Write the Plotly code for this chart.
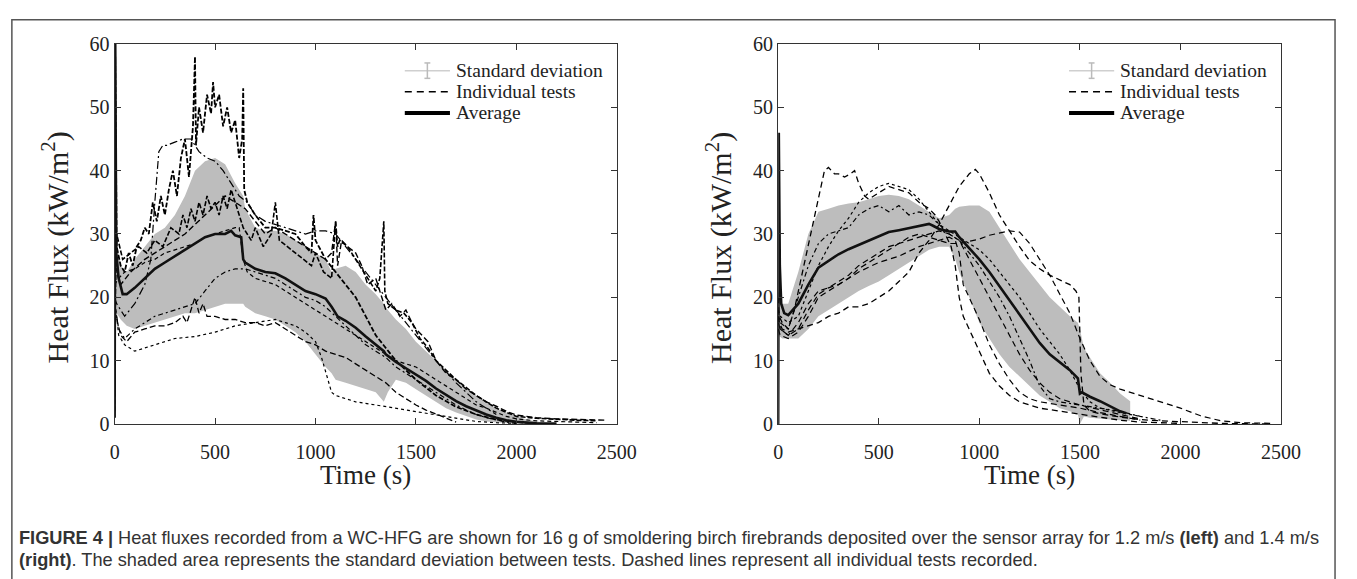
import plotly.graph_objects as go

# ---------------- LEFT PANEL (1.2 m/s) ----------------
L_avg_t = [0, 3, 8, 20, 40, 60, 100, 150, 200, 250, 300, 350, 400, 450, 500, 550, 580, 600, 630, 640, 650, 700, 750, 800, 850, 900, 950, 1000, 1050, 1080, 1100, 1110, 1150, 1200, 1250, 1300, 1340, 1350, 1400, 1450, 1500, 1550, 1600, 1650, 1700, 1750, 1800, 1850, 1900, 1950, 2000, 2050, 2100, 2200]
L_avg_y = [1, 60, 27, 23, 20.5, 20.5, 21.5, 23, 24.5, 25.5, 26.5, 27.5, 28.5, 29.5, 30, 30, 30.5, 29.8, 29.5, 26, 25.5, 24.5, 24, 23.8, 23, 22, 21, 20.5, 19.8, 18.5, 17.5, 17, 16.3, 15.2, 13.8, 12.5, 11.5, 11, 9.8, 8.8, 7.8, 6.8, 5.6, 4.6, 3.6, 2.8, 2.1, 1.5, 1.0, 0.6, 0.35, 0.2, 0.1, 0.05]

L_band_t = [0, 30, 60, 100, 150, 200, 250, 300, 350, 400, 450, 500, 550, 600, 640, 650, 700, 750, 800, 850, 900, 950, 1000, 1050, 1080, 1100, 1150, 1200, 1250, 1300, 1340, 1360, 1400, 1450, 1500, 1550, 1600, 1650, 1700, 1750, 1800, 1850, 1900, 1950, 2000, 2050, 2100, 2150]
L_band_hi = [31, 25, 24, 26, 28, 30, 31, 33, 36, 40, 41.5, 42, 41, 38, 36, 34, 31, 30.5, 30.5, 30, 29, 28, 27, 26, 24, 24.5, 25, 24, 22, 20.5, 19, 18, 16.5, 15, 13, 11.5, 10, 8.5, 7, 5.5, 4.5, 3.5, 2.5, 1.8, 1.2, 0.7, 0.4, 0.2]
L_band_lo = [18, 16.5, 15.5, 15, 15.5, 16, 16.5, 17, 17.5, 17.5, 18, 18.5, 19, 19, 19, 18.5, 17.5, 17, 16.5, 15.5, 14.5, 13, 11, 9, 8, 7, 6.5, 6, 5.5, 5, 3.5, 5, 7, 6.5, 5.5, 4.5, 3.5, 2.5, 1.8, 1.2, 0.7, 0.4, 0.2, 0.1, 0.05, 0.02, 0.01, 0]

L_t1 = [0, 3, 10, 30, 50, 70, 90, 110, 130, 150, 170, 190, 210, 230, 250, 270, 290, 310, 330, 350, 370, 390, 400, 405, 420, 440, 460, 480, 490, 500, 520, 540, 560, 580, 600, 620, 635, 640, 645, 660, 700, 750, 800, 850, 900, 950, 980, 990, 1000, 1050, 1100, 1150, 1200, 1250, 1300, 1350, 1400, 1450, 1500, 1600, 1700, 1800, 1900, 2000, 2100]
L_y1 = [2, 58, 28, 25, 24, 27, 25, 28, 29, 31, 30, 35, 32, 36, 33, 37, 40, 36, 42, 45, 39, 47, 58, 44, 50, 46, 52, 49, 54, 50, 52, 47, 50, 46, 48, 42, 45, 53, 37, 35, 33, 31, 31, 30.5, 30, 28, 27, 33, 29, 26, 24, 22, 20, 17, 14, 12, 10, 8.5, 7, 4.5, 2.7, 1.5, 0.7, 0.3, 0.1]

L_t2 = [0, 10, 50, 100, 150, 180, 200, 220, 240, 260, 300, 340, 380, 420, 460, 500, 540, 580, 620, 660, 700, 750, 800, 850, 900, 950, 1000, 1050, 1100, 1150, 1200, 1300, 1400, 1500, 1600, 1700, 1800, 1900]
L_y2 = [20, 19, 17, 19, 22, 26, 35, 43, 44, 44, 44.5, 45, 45, 43, 42, 41.5, 40, 38, 36, 35, 33, 32, 31.5, 31, 30.5, 30, 30.5, 30.5, 30, 28, 26, 22, 18, 14, 10, 6.5, 3.5, 1.5]

L_t3 = [0, 10, 40, 80, 120, 160, 200, 240, 280, 320, 340, 360, 380, 400, 420, 440, 460, 480, 500, 520, 540, 560, 580, 600, 620, 640, 660, 680, 700, 740, 780, 800, 820, 860, 900, 940, 980, 1000, 1040, 1080, 1100, 1110, 1120, 1160, 1200, 1240, 1280, 1300, 1320, 1340, 1345, 1360, 1400, 1440, 1480, 1520, 1560, 1600, 1700, 1800, 1900, 2000, 2100, 2200, 2300, 2400]
L_y3 = [15, 30, 26, 27, 28, 27, 29, 28, 31, 30, 33, 31, 34, 32, 35, 33, 36, 34, 35, 33, 36, 34, 37, 35, 33, 31, 30, 29, 31, 28, 30, 35, 29, 28, 27, 26, 25, 27, 24, 23, 32, 28, 29, 28, 26, 24, 22, 21, 23, 32, 21, 19, 18, 17.5, 16, 13.5, 12, 10, 7, 4.5, 2.5, 1.2, 0.9, 0.7, 0.6, 0.5]

L_t4 = [0, 20, 50, 100, 150, 200, 300, 400, 500, 600, 700, 800, 850, 900, 950, 1000, 1030, 1060, 1080, 1100, 1200, 1300, 1400, 1500, 1600, 1700, 1800, 1900, 2000]
L_y4 = [20, 14, 12.5, 11.5, 12, 12.5, 13.5, 13.8, 14.5, 15.5, 16, 16.5, 16, 15.5, 14.5, 13, 10.5, 7, 5, 4.5, 3.5, 3, 2.5, 2, 1.5, 0.9, 0.4, 0.2, 0.1]

L_t5 = [0, 30, 60, 100, 150, 200, 250, 300, 340, 360, 380, 400, 420, 440, 460, 500, 550, 600, 650, 700, 750, 800, 850, 900, 950, 1000, 1050, 1100, 1150, 1200, 1250, 1300, 1350, 1400, 1450, 1500, 1550, 1600, 1650, 1700]
L_y5 = [18, 14, 13, 14.5, 15, 15.5, 15.5, 16, 17, 16, 18, 20, 17.5, 19, 17, 17, 16.5, 16.5, 16, 16, 15.5, 16, 15, 14, 13, 12.5, 11.5, 11, 10.5, 9.5, 8.5, 7.5, 6.5, 5, 4, 3, 2.2, 1.6, 1, 0.3]

L_t6 = [0, 20, 50, 100, 150, 200, 250, 300, 350, 400, 450, 500, 550, 600, 650, 700, 750, 800, 850, 900, 950, 1000, 1050, 1100, 1150, 1200, 1250, 1300, 1350, 1400, 1450, 1500, 1550, 1600, 1650, 1700, 1750, 1800, 1850, 1900, 1950, 2000]
L_y6 = [19, 15, 13.5, 15, 16, 17, 17.5, 18, 18.5, 19, 21, 23, 24, 24.5, 24.5, 24, 23.5, 23, 22, 21, 20, 19.5, 18.5, 17, 15.5, 14, 12.5, 11.5, 10.5, 9, 8, 7, 6, 5, 4, 3, 2.2, 1.5, 1, 0.6, 0.3, 0.1]

L_t7 = [0, 20, 50, 100, 150, 200, 250, 300, 350, 400, 450, 500, 550, 600, 620, 640, 660, 700, 750, 800, 850, 900, 950, 1000, 1050, 1100, 1150, 1200, 1250, 1300, 1350, 1400, 1450, 1500, 1550, 1600, 1650, 1700, 1750, 1800, 1850, 1900, 1950, 2000, 2100, 2200, 2300, 2400]
L_y7 = [22, 23, 24, 24.5, 25.5, 26, 27, 27.5, 28, 28.5, 29.5, 30, 30.5, 31, 31, 26, 24, 23, 22.5, 22, 21, 20, 19, 18, 17, 16, 15, 14, 13, 12, 11, 10, 9.5, 9, 8, 7, 6, 5, 4, 3, 2.5, 1.8, 1.2, 0.8, 0.5, 0.4, 0.3, 0.2]

L_t8 = [0, 30, 80, 150, 250, 350, 450, 550, 650, 700, 750, 800, 850, 900, 950, 1000, 1050, 1080, 1100, 1110, 1130, 1160, 1200, 1230, 1260, 1300, 1330, 1350, 1380, 1420, 1450, 1480, 1500, 1530, 1560, 1600, 1650, 1700, 1750, 1800, 1850, 1900, 1950, 2000, 2100, 2200, 2300, 2400, 2450]
L_y8 = [25, 22, 24, 26, 28, 30, 33, 36, 34, 32, 30, 31, 30, 29, 28, 27, 26, 27, 32, 25, 29, 28, 27, 25, 22, 23, 20, 18, 19, 17, 18, 16, 15, 14, 13, 10, 8, 7, 5.5, 4.5, 3.5, 2.8, 2.0, 1.4, 1.0, 0.8, 0.7, 0.6, 0.6]

# ---------------- RIGHT PANEL (1.4 m/s) ----------------
R_avg_t = [0, 3, 8, 15, 30, 50, 100, 150, 200, 250, 300, 350, 400, 450, 500, 550, 600, 650, 700, 750, 770, 800, 850, 880, 900, 950, 1000, 1050, 1100, 1150, 1200, 1250, 1300, 1350, 1400, 1450, 1490, 1500, 1510, 1550, 1600, 1650, 1700, 1730]
R_avg_y = [0, 46, 25, 19, 17.5, 17.2, 19, 22, 24.7, 25.8, 26.8, 27.6, 28.3, 29, 29.7, 30.3, 30.6, 30.9, 31.2, 31.6, 31.3, 30.8, 30.4, 30.4, 29.5, 27.8, 26, 24, 21.8, 19.5, 17.2, 15, 12.8, 11, 9.8, 8.5, 7.2, 4.8, 5, 4.3, 3.6, 2.8, 2.0, 1.7]

R_band_t = [0, 20, 50, 100, 150, 200, 250, 300, 350, 400, 450, 500, 550, 600, 650, 700, 750, 800, 850, 880, 900, 950, 1000, 1050, 1100, 1150, 1200, 1250, 1300, 1350, 1400, 1450, 1490, 1500, 1520, 1550, 1600, 1650, 1700, 1750]
R_band_hi = [21, 19, 19, 24, 30, 33.5, 34, 34.5, 34.8, 35, 35.5, 36, 36.2, 36, 35.5, 34.5, 33.5, 32.5, 33, 34, 34.3, 34.5, 34.5, 33.5, 31, 28.5, 26, 24, 22, 20, 18.5, 17, 16, 15, 12, 10.5, 8, 6.5, 4.8, 3.6]
R_band_lo = [14, 13.5, 13.5, 13.5, 15, 17, 18, 19, 20, 21, 21.8, 22.5, 23.5, 24.5, 25.5, 26.5, 27.5, 28, 28, 26, 24, 20, 16, 13.5, 11, 9, 7.5, 6, 4.5, 3.5, 2.5, 2, 1.5, 0, 1.2, 1.0, 0.8, 0.7, 0.6, 0.5]

R_t1 = [0, 5, 20, 50, 80, 100, 150, 200, 230, 250, 280, 300, 330, 360, 380, 400, 430, 450, 500, 550, 600, 650, 700, 750, 780, 800, 830, 860, 880, 900, 920, 950, 1000, 1050, 1100, 1150, 1200, 1300, 1400, 1500, 1600, 1700, 1800, 1900, 2000]
R_y1 = [20, 17, 16, 15, 18, 21, 28, 36, 40, 40.5, 39.5, 39.5, 39, 39.5, 40, 38, 36, 35.5, 36.5, 37.5, 37, 36.5, 35, 34, 33, 32, 30, 28, 25, 20, 17, 15, 11.5, 8, 6, 4.5, 3.5, 2.5, 2, 1.5, 1, 0.6, 0.3, 0.2, 0.1]

R_t2 = [0, 5, 20, 50, 100, 150, 200, 250, 300, 350, 400, 450, 500, 550, 600, 650, 700, 750, 800, 850, 900, 950, 980, 1000, 1050, 1100, 1150, 1200, 1250, 1300, 1350, 1400, 1450, 1480, 1495, 1505, 1520, 1550, 1600, 1700, 1800, 1900, 2000, 2100, 2200, 2300, 2450]
R_y2 = [17, 16, 15, 14.5, 15, 15.5, 16, 17, 17.5, 18.5, 18.5, 19, 20, 21, 22.5, 24, 27, 29, 31.5, 34.5, 37.5, 39.5, 40.2, 39.5, 36.5, 33, 30.5, 28, 25.8, 24.5, 23.5, 22.8, 22, 21, 20, 8, 3, 2, 1.6, 1.1, 0.7, 0.5, 0.35, 0.2, 0.1, 0.05, 0]

R_t3 = [0, 10, 50, 100, 150, 200, 250, 300, 350, 400, 450, 500, 550, 600, 650, 700, 750, 800, 850, 900, 950, 1000, 1050, 1100, 1150, 1200, 1250, 1300, 1350, 1400, 1500, 1600, 1700, 1800, 1900]
R_y3 = [18, 16, 15, 20, 25, 28.5, 30, 30.5, 31, 33, 34, 34.5, 33.5, 34.5, 33, 33.5, 33, 31.5, 30, 29, 27, 25, 22.5, 20, 17, 13.5, 10, 6, 4, 3.5, 3, 2.5, 2, 1.2, 0.6]

R_t4 = [0, 10, 50, 100, 150, 200, 250, 300, 350, 400, 450, 500, 550, 600, 650, 700, 750, 800, 850, 900, 950, 1000, 1050, 1100, 1150, 1200, 1250, 1300, 1350, 1400, 1450, 1500, 1550, 1600, 1700, 1800]
R_y4 = [18, 17, 16, 17, 21, 25, 28, 30.5, 32.5, 35, 36.5, 37.5, 38, 37.5, 37, 35.5, 33.5, 31.5, 30.5, 29.5, 28.5, 27.5, 26, 24, 22, 20, 17.5, 15, 13, 11, 8.5, 5.5, 3.5, 2.5, 1.8, 1.2]

R_t5 = [0, 10, 50, 100, 150, 200, 250, 300, 400, 500, 600, 700, 800, 850, 880, 900, 920, 950, 1000, 1050, 1100, 1150, 1200, 1250, 1300, 1400, 1500, 1600, 1700, 1800]
R_y5 = [15, 14, 13.5, 14.5, 17, 20, 21, 22, 24, 25.5, 26.5, 28, 29, 29.5, 29, 27, 22, 20, 16.5, 12.5, 9.5, 7, 5, 4, 3.5, 3, 2.5, 1.8, 1.2, 0.6]

R_t6 = [0, 10, 50, 100, 150, 200, 250, 300, 350, 400, 450, 500, 550, 600, 650, 700, 750, 800, 850, 900, 950, 1000, 1050, 1100, 1150, 1200, 1250, 1300, 1350, 1400, 1450, 1500, 1550, 1600, 1650, 1700, 1800, 1900, 2000, 2100, 2200, 2300, 2450]
R_y6 = [16, 15, 14, 15, 18, 20.5, 21.5, 22, 23, 24.5, 25.5, 26.5, 27.5, 28.5, 29.5, 30, 29.5, 29, 28.5, 28.5, 28.8, 29.2, 29.8, 30.2, 30.5, 30.3, 28.5, 26, 23.5, 20.5, 17.5, 13.5, 10, 7.5, 6.2, 5.5, 4.5, 3.5, 2.5, 1.3, 0.5, 0.2, 0.1]

R_t7 = [0, 10, 50, 100, 150, 200, 250, 300, 350, 400, 450, 500, 550, 600, 650, 700, 750, 800, 850, 900, 950, 1000, 1050, 1100, 1150, 1200, 1250, 1300, 1350, 1400, 1500, 1600, 1700, 1800]
R_y7 = [17, 15, 14, 16, 19, 21, 21.5, 22.5, 23.5, 25, 26, 27, 28, 28.5, 29, 29.5, 30, 30.5, 30, 29, 26, 23, 20, 17, 14, 11, 8.5, 6.5, 5, 4, 3, 2.2, 1.5, 0.8]

x_ticks = [0, 500, 1000, 1500, 2000, 2500]
y_ticks = [0, 10, 20, 30, 40, 50, 60]
legend_labels = ["Standard deviation", "Individual tests", "Average"]
x_title = "Time (s)"
y_title = "Heat Flux (kW/m<sup>2</sup>)"
caption_1 = ("<b>FIGURE 4 |</b> Heat fluxes recorded from a WC-HFG are shown for 16 g of smoldering birch "
             "firebrands deposited over the sensor array for 1.2 m/s <b>(left)</b> and 1.4 m/s")
caption_2 = ("<b>(right)</b>. The shaded area represents the standard deviation between tests. "
             "Dashed lines represent all individual tests recorded.")

# ---------------- FIGURE ----------------
W, H = 1357, 579
def px(x):
    return x / W
def py(y):
    return 1 - y / H

BAND = "#bdbdbd"
fig = go.Figure()

def add_panel(xa, ya, bt, blo, bhi, tests, styles, widths, at, ay):
    fig.add_trace(go.Scatter(x=bt, y=blo, mode="lines", line=dict(width=0, color=BAND),
                             xaxis=xa, yaxis=ya, showlegend=False, hoverinfo="skip"))
    fig.add_trace(go.Scatter(x=bt, y=bhi, mode="lines", line=dict(width=0, color=BAND),
                             fill="tonexty", fillcolor=BAND, xaxis=xa, yaxis=ya,
                             showlegend=False, hoverinfo="skip"))
    for (tt, yy), dash, w in zip(tests, styles, widths):
        fig.add_trace(go.Scatter(x=tt, y=yy, mode="lines",
                                 line=dict(color="black", width=w, dash=dash),
                                 xaxis=xa, yaxis=ya, showlegend=False))
    fig.add_trace(go.Scatter(x=at, y=ay, mode="lines", line=dict(color="#111", width=2.6),
                             xaxis=xa, yaxis=ya, showlegend=False))

L_tests = [(L_t1, L_y1), (L_t2, L_y2), (L_t3, L_y3), (L_t4, L_y4),
           (L_t5, L_y5), (L_t6, L_y6), (L_t7, L_y7), (L_t8, L_y8)]
L_styles = ["5px,2px", "8px,3px,2px,3px", "5px,2px", "3px,3px",
            "6px,3px", "5px,3px,2px,3px", "4px,3px", "6px,3px"]
L_widths = [1.8, 1.2, 1.6, 1.2, 1.3, 1.2, 1.2, 1.4]
R_tests = [(R_t1, R_y1), (R_t2, R_y2), (R_t3, R_y3), (R_t4, R_y4),
           (R_t5, R_y5), (R_t6, R_y6), (R_t7, R_y7)]
R_styles = ["6px,4px", "6px,4px", "5px,3px,2px,3px", "3px,3px", "6px,4px", "6px,4px", "6px,4px"]
R_widths = [1.3, 1.3, 1.2, 1.2, 1.2, 1.2, 1.2]

add_panel("x", "y", L_band_t, L_band_lo, L_band_hi, L_tests, L_styles, L_widths, L_avg_t, L_avg_y)
add_panel("x2", "y2", R_band_t, R_band_lo, R_band_hi, R_tests, R_styles, R_widths, R_avg_t, R_avg_y)

FONT_SERIF = "Liberation Serif, Times New Roman, serif"
axis_common = dict(showgrid=False, zeroline=False, showline=True, linecolor="#333", linewidth=1.3,
                   mirror="ticks", ticks="inside", ticklen=6, tickwidth=1.2, tickcolor="#333",
                   tickfont=dict(family=FONT_SERIF, size=20, color="#222"))
xl = [px(111.7), px(623.3)]
xr = [px(787.7), px(1300)]
yd = [py(429.3), py(34.3)]

fig.update_layout(
    width=W, height=H, margin=dict(l=0, r=0, t=0, b=0),
    paper_bgcolor="white", plot_bgcolor="white", showlegend=False,
    xaxis=dict(domain=xl, range=[0, 2500], tickvals=x_ticks, anchor="y", ticklabelstandoff=10, **axis_common),
    yaxis=dict(domain=yd, range=[0, 60], tickvals=y_ticks, anchor="x", **axis_common),
    xaxis2=dict(domain=xr, range=[0, 2500], tickvals=x_ticks, anchor="y2", ticklabelstandoff=10, **axis_common),
    yaxis2=dict(domain=yd, range=[0, 60], tickvals=y_ticks, anchor="x2", **axis_common),
)

shapes = []
annotations = []
# outer frame (bottom edge lies below the visible page, as in the reference)
shapes.append(dict(type="rect", xref="paper", yref="paper", x0=px(7), x1=px(1355), y0=py(600), y1=py(9),
                   line=dict(color="#555", width=1.5)))

for plot_left, plot_right in [(111.7, 623.3), (787.7, 1300)]:
    # axis titles
    annotations.append(dict(text=x_title, xref="paper", yref="paper", x=px((plot_left + plot_right) / 2),
                            y=py(482), showarrow=False, xanchor="center", yanchor="middle",
                            font=dict(family=FONT_SERIF, size=27, color="#222")))
    annotations.append(dict(text=y_title, xref="paper", yref="paper", x=px(plot_left - 60),
                            y=py(246), showarrow=False, xanchor="center", yanchor="middle", textangle=-90,
                            font=dict(family=FONT_SERIF, size=30, color="#222")))
    # legend
    lx0 = plot_right - 216
    lx1 = plot_right - 170
    tx = plot_right - 166
    rows = [62, 84, 106]
    shapes.append(dict(type="line", xref="paper", yref="paper", x0=px(lx0), x1=px(lx1), y0=py(rows[0]), y1=py(rows[0]),
                       line=dict(color="#cfcfcf", width=1.5)))
    cx = (lx0 + lx1) / 2
    shapes.append(dict(type="line", xref="paper", yref="paper", x0=px(cx), x1=px(cx), y0=py(rows[0] - 8), y1=py(rows[0] + 8),
                       line=dict(color="#bbbbbb", width=1.5)))
    for yy in (rows[0] - 8, rows[0] + 8):
        shapes.append(dict(type="line", xref="paper", yref="paper", x0=px(cx - 3), x1=px(cx + 3), y0=py(yy), y1=py(yy),
                           line=dict(color="#bbbbbb", width=1.5)))
    shapes.append(dict(type="line", xref="paper", yref="paper", x0=px(lx0), x1=px(lx1), y0=py(rows[1]), y1=py(rows[1]),
                       line=dict(color="black", width=1.6, dash="7px,5px")))
    shapes.append(dict(type="line", xref="paper", yref="paper", x0=px(lx0), x1=px(lx1), y0=py(rows[2]), y1=py(rows[2]),
                       line=dict(color="black", width=4)))
    for lab, yy in zip(legend_labels, rows):
        annotations.append(dict(text=lab, xref="paper", yref="paper", x=px(tx), y=py(yy), showarrow=False,
                                xanchor="left", yanchor="middle",
                                font=dict(family=FONT_SERIF, size=19.5, color="#222")))

FONT_SANS = "Liberation Sans, Arial, sans-serif"
annotations.append(dict(text=caption_1, xref="paper", yref="paper", x=px(12), y=py(548), showarrow=False,
                        xanchor="left", yanchor="middle", font=dict(family=FONT_SANS, size=18.2, color="#333")))
annotations.append(dict(text=caption_2, xref="paper", yref="paper", x=px(12), y=py(571), showarrow=False,
                        xanchor="left", yanchor="middle", font=dict(family=FONT_SANS, size=18.2, color="#333")))

fig.update_layout(shapes=shapes, annotations=annotations)
fig.write_html("out.html")
